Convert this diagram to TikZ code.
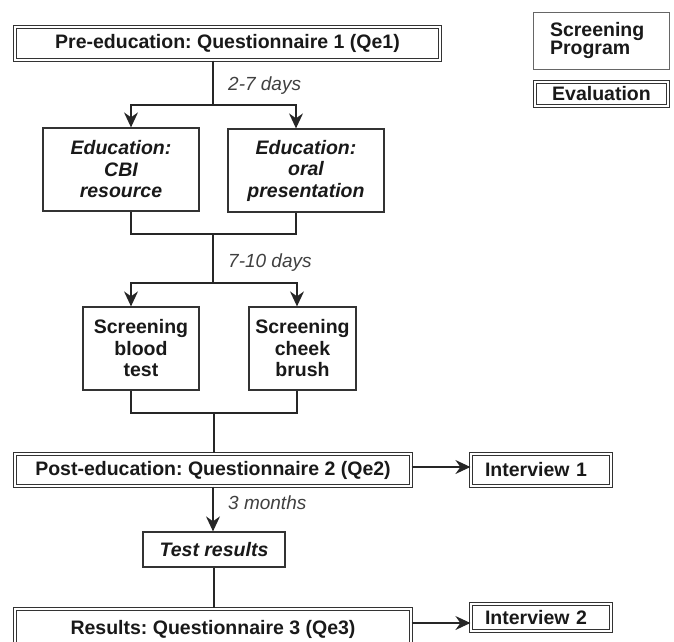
\documentclass[tikz,border=0pt]{standalone}
\usepackage{fontspec}
\setmainfont{Liberation Sans}
\usetikzlibrary{arrows.meta}
\frenchspacing
\begin{document}
\begin{tikzpicture}[x=1pt,y=-1pt,
  every node/.style={font=\fontsize{19.5}{21.5}\selectfont\bfseries\frenchspacing, inner sep=0pt, text=black!90, align=center},
  sbox/.style={draw=black!80, line width=1.3pt, fill=white},
  dbox/.style={draw=black!80, line width=1.2pt, double=white, double distance=2.3pt},
  lbl/.style={font=\fontsize{19}{21.5}\selectfont\itshape\mdseries, text=black!75, anchor=west},
  conn/.style={draw=black!85, line width=1.2pt},
  arr/.style={conn, -{Stealth[length=15pt,width=14pt,inset=5pt]}}
]
\useasboundingbox (0,0) rectangle (674,641);
\clip (0,0) rectangle (674,641);

% main boxes
\node[dbox, minimum width=425pt, minimum height=33pt] (pre) at (227.5,43.5) {Pre-education: Questionnaire 1 (Qe1)};
\node[sbox, minimum width=156pt, minimum height=83pt] (cbi) at (121,169.5) {\itshape Education:\\\itshape CBI\\\itshape resource};
\node[sbox, minimum width=156pt, minimum height=83pt] (oral) at (306,170.5) {\itshape Education:\\\itshape oral\\\itshape presentation};
\node[sbox, minimum width=116pt, minimum height=83pt] (blood) at (141,348.5) {Screening\\blood\\test};
\node[sbox, minimum width=107pt, minimum height=83pt] (cheek) at (302.5,348.5) {Screening\\cheek\\brush};
\node[dbox, minimum width=396pt, minimum height=32pt] (post) at (213,470) {Post-education: Questionnaire 2 (Qe2)};
\node[dbox, minimum width=140pt, minimum height=32pt, text width=112pt, align=left] (int1) at (541,470) {Interview 1};
\node[sbox, minimum width=142pt, minimum height=35pt] (test) at (214,549.5) {\itshape Test results};
\node[dbox, minimum width=396pt, minimum height=40pt] (res) at (213,629) {Results: Questionnaire 3 (Qe3)};
\node[dbox, minimum width=140pt, minimum height=27pt, text width=112pt, align=left] (int2) at (541,617.5) {Interview 2};

% legend
\node[sbox, draw=black!60, line width=1pt, minimum width=136pt, minimum height=57pt, text width=102pt, align=left,
      font=\fontsize{19.5}{17.5}\selectfont\bfseries] (lsp) at (601,40.5) {Screening\\Program};
\node[dbox, minimum width=133pt, minimum height=24pt] (lev) at (601.5,94) {Evaluation};

% spine coordinates
\coordinate (s1) at (213,105);
\coordinate (j1) at (213,234);
\coordinate (s2) at (213,283);
\coordinate (j2) at (214,413);
\coordinate (a1) at (0,467);
\coordinate (a2) at (0,623);

% connectors
\draw[conn] (s1 |- pre.south) -- (s1);
\draw[arr] (s1) -| ([xshift=10pt]cbi.north);
\draw[arr] (s1) -| ([xshift=-10pt]oral.north);
\node[lbl] (d1) at (228,86) {2-7 days};

\draw[conn] ([xshift=10pt]cbi.south) |- (j1);
\draw[conn] ([xshift=-10pt]oral.south) |- (j1);
\draw[conn] (j1) -- (s2);
\draw[arr] (s2) -| ([xshift=-10pt]blood.north);
\draw[arr] (s2) -| ([xshift=-5.5pt]cheek.north);
\node[lbl] (d2) at (228,263) {7-10 days};

\draw[conn] ([xshift=-10pt]blood.south) |- (j2);
\draw[conn] ([xshift=-5.5pt]cheek.south) |- (j2);
\draw[conn] (j2) -- (j2 |- post.north);

\draw[arr] (post.east |- a1) -- (int1.west |- a1);
\draw[arr] (post.south) -- (post.south |- test.north);
\node[lbl] (d3) at (228,503) {3 months};
\draw[conn] (test.south) -- (test.south |- res.north);
\draw[arr] (res.east |- a2) -- (int2.west |- a2);
\end{tikzpicture}
\end{document}
